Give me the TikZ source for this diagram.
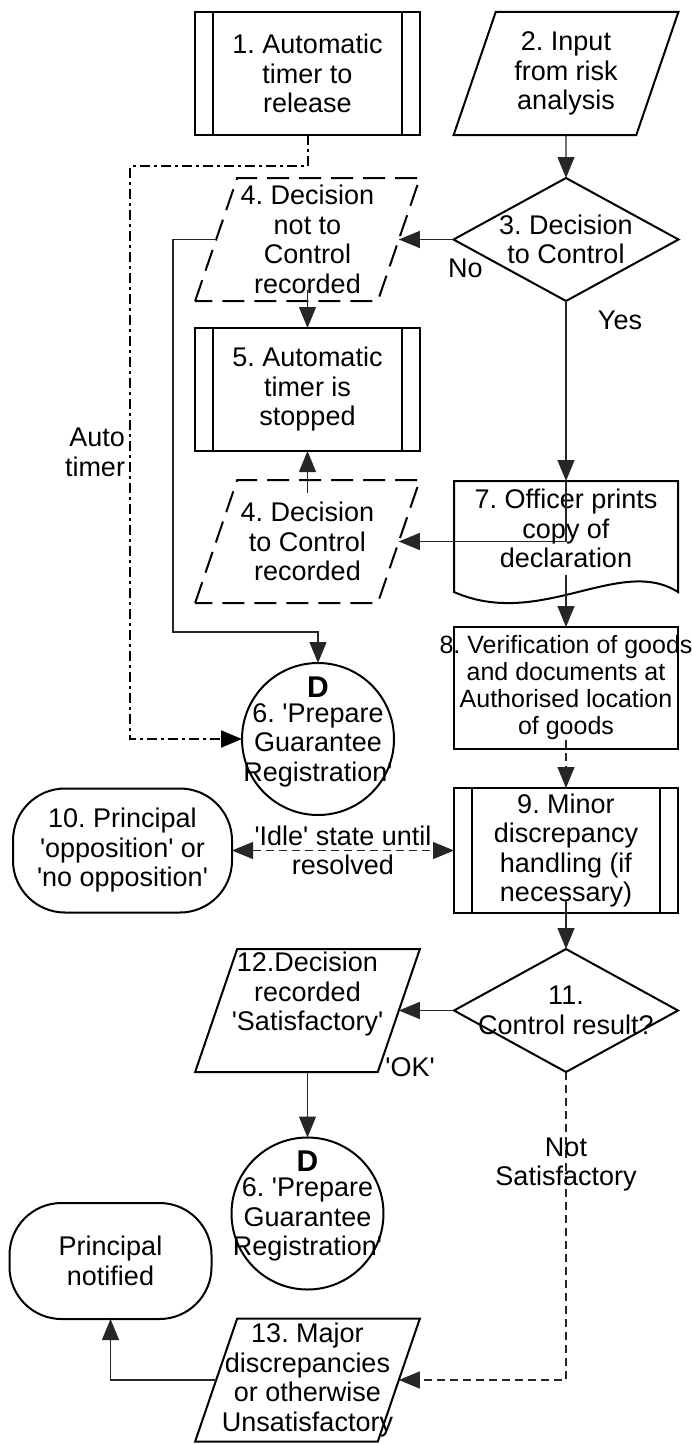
\documentclass[tikz,border=0pt]{standalone}
\usepackage{fontspec}
\setmainfont{Liberation Sans}[Ligatures=TeXOff]
\usetikzlibrary{positioning,arrows.meta,shapes.geometric}
\frenchspacing

\begin{document}
\begin{tikzpicture}[
  x=1pt, y=-1pt,
  font=\fontsize{27}{29.5}\selectfont,
  shp/.style={draw, line width=2pt, outer sep=0pt},
  procbox/.style={shp, rectangle, minimum width=225pt, minimum height=123pt, inner sep=0pt,
    path picture={
      \draw[line width=2pt] ([xshift=18pt]path picture bounding box.north west) -- ([xshift=18pt]path picture bounding box.south west)
        ([xshift=-18pt]path picture bounding box.north east) -- ([xshift=-18pt]path picture bounding box.south east);}},
  plainbox/.style={shp, rectangle, minimum width=224pt, minimum height=122pt, inner sep=0pt},
  iobox/.style={shp, trapezium, trapezium left angle=74, trapezium right angle=106, trapezium stretches=true,
    minimum width=225pt, minimum height=123pt, inner sep=2pt},
  recbox/.style={iobox, dash pattern=on 22pt off 10pt},
  decision/.style={shp, diamond, minimum width=225pt, minimum height=123pt, inner sep=0pt},
  guarantee/.style={shp, circle, minimum size=152pt, inner sep=0pt,
    label={[font=\fontsize{30}{30}\selectfont\bfseries, yshift=52pt]center:D},
    label={[lbl, yshift=-6pt]center:{6. 'Prepare\\Guarantee\\Registration'}}},
  stadium/.style={shp, rectangle, rounded corners=52pt, inner sep=0pt},
  lbl/.style={align=center, inner sep=2pt},
  txt/.style={label={[lbl]center:{#1}}},
  conn/.style={-{Triangle[length=21pt,width=17pt]}, line width=1.2pt, draw=black!85},
  dconn/.style={conn, dash pattern=on 8pt off 5pt},
  timerline/.style={conn, draw=black, line width=2pt, dash pattern=on 10pt off 4pt on 3pt off 4pt}
]
\path[use as bounding box, fill=white] (0,0) rectangle (692,1445);

% Top row
\node[procbox, txt={1. Automatic\\timer to\\release}] (p1) at (307.5,73.5) {};
\node[iobox, txt={2. Input\\from risk\\analysis}] (in2) at (566,73.5) {\phantom{x}};

% Decision and what gets recorded
\node[decision, txt={3. Decision\\to Control}] (d3) at (566,239.5) {};
\node[recbox, txt={4. Decision\\not to\\Control\\recorded}] (nd4a) at (307.5,239.5) {\phantom{x}};
\node[procbox, txt={5. Automatic\\timer is\\stopped}] (p5) at (307.5,389.5) {};
\node[recbox, txt={4. Decision\\to Control\\recorded}] (nd4b) at (307.5,541.5) {\phantom{x}};

% Control branch (right column)
\node[rectangle, minimum width=224pt, minimum height=111pt, inner sep=0pt, outer sep=0pt, below=180pt of d3,
  label={[lbl, yshift=8pt]center:{7. Officer prints\\copy of\\declaration}}] (p7) {};
\draw[shp] (p7.north west) -- (p7.north east) -- (p7.south east)
  .. controls +(-58,-37) and +(86,38) .. (p7.south west) -- cycle;
\node[plainbox, below=35pt of p7,
  label={[lbl, font=\fontsize{25}{27}\selectfont]center:{8. Verification of goods\\and documents at\\Authorised location\\of goods}}] (p8) {};
\node[procbox, minimum width=224pt, minimum height=125pt, below=39pt of p8,
  txt={9. Minor\\discrepancy\\handling (if\\necessary)}] (p9) {};
\node[stadium, minimum width=219pt, minimum height=124pt, left=222pt of p9,
  txt={10. Principal\\'opposition' or\\'no opposition'}] (t10) {};
\node[decision, minimum width=224pt, below=36pt of p9, txt={11.\\Control result?}] (d11) {};

% Guarantee registration and results
\node[guarantee] (c6a) at (318,739) {};
\node[iobox, label={[lbl, yshift=16pt]center:{12.Decision\\recorded\\'Satisfactory'}}] (nd12) at (307.5,1010.5) {\phantom{x}};
\node[guarantee] (c6b) at (307.5,1213.5) {};
\node[stadium, minimum width=202pt, minimum height=116pt, txt={Principal\\notified}] (pn) at (110.5,1261) {};
\node[iobox, txt={13. Major\\discrepancies\\or otherwise\\Unsatisfactory}] (nd13) at (307.5,1380) {\phantom{x}};

% Connectors
\draw[conn] (in2) -- (d3);
\draw[conn] (d3.west) -- (nd4a.right side);
\draw[conn] ([yshift=-50.5pt]nd4a.center) -- (p5.north);
\draw[conn] ([yshift=48.5pt]nd4b.center) -- (p5.south);
\draw[conn] (d3.south) -- (p7.north);
\draw[conn] (p7.north) |- (nd4b.right side);
\draw[conn] ([yshift=17pt]p7.south) -- (p8.north);
\draw[dconn] ([yshift=9pt]p8.south) -- (p9.north);
\draw[conn] ([yshift=13pt]p9.south) -- (d11.north);
\draw[dconn, {Triangle[length=21pt,width=17pt]}-{Triangle[length=21pt,width=17pt]}]
  (t10.east) -- node[lbl] {'Idle' state until\\resolved} (p9.west);
\draw[conn] (d11.west) -- (nd12.right side);
\draw[conn] ([yshift=-61.5pt]nd12.center) -- (c6b.north);
\draw[dconn] (d11.south) |- node[lbl, pos=0.15] {Not\\Satisfactory} (nd13.right side);
\draw[conn] (nd13.left side) -| (pn.south);

% Timer and not-controlled routes into 6
\coordinate (tmr) at (130,166);
\draw[timerline] (p1.south) |- (tmr) |- node[lbl, pos=0.25, left=2pt, align=right] {Auto\\timer} (c6a.west);
\coordinate (gbend) at (173,632);
\draw[conn] (nd4a.left side) -| (gbend) -| (c6a.north);

% Branch labels
\node[lbl] (no3) at ([xshift=12pt,yshift=-29pt]d3.west) {No};
\node[lbl] (yes3) at ([xshift=54pt,yshift=-19pt]d3.south) {Yes};
\node[lbl] (ok11) at ([xshift=-44pt,yshift=-57pt]d11.west) {'OK'};

\end{tikzpicture}
\end{document}
